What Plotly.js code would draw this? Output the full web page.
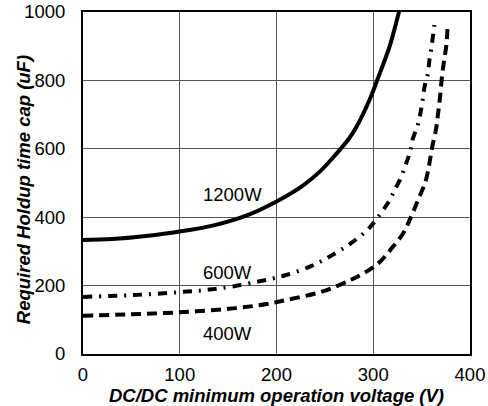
<!DOCTYPE html>
<html>
<head>
<meta charset="utf-8">
<script src="https://cdn.plot.ly/plotly-3.0.1.min.js"></script>
<style>
  html, body { margin: 0; padding: 0; background: #fff; }
  #chart { width: 488px; height: 406px; }
</style>
</head>
<body>
<div id="chart"></div>
<script>
// DC/DC minimum operation voltage (V) vs. required hold-up capacitance (uF)
const v1200 = [0, 30, 65, 100, 135, 170, 200, 228, 245, 262, 275, 283, 296, 304, 310, 317, 327];
const c1200 = [333, 336, 345, 358, 376, 406, 446, 494, 534, 586, 630, 666, 742, 800, 845, 900, 1005];

const v600 = [0, 50, 100, 142, 190, 210, 235, 255, 277, 296, 305, 316, 322, 329, 334, 338, 341, 346, 349, 351, 353, 356.5, 358, 360, 362, 364];
const c600 = [167, 172, 181, 192, 217, 231, 256, 285, 324, 369, 401, 445, 479, 518, 557, 591, 630, 669, 708, 742, 781, 820, 858, 893, 936, 980];

const v400 = [0, 50, 100, 150, 190, 210, 248, 277, 293, 307, 319, 331, 339, 347, 354, 358, 361, 365, 367, 369, 371, 373, 375.5, 377];
const c400 = [112, 116, 122, 132, 146, 158, 183, 217, 241, 270, 309, 353, 401, 455, 504, 557, 606, 659, 703, 751, 810, 854, 902, 966];

const seriesLabels = ['1200W', '600W', '400W'];
const labelV = [154, 149, 149];
const labelC = [465, 239, 61];

const xTicks = [0, 100, 200, 300, 400];
const yTicks = [0, 200, 400, 600, 800, 1000];

const FONT = 'Liberation Sans, Arial, Helvetica, sans-serif';

function curve(x, y, name, dash) {
  return {
    x: x, y: y, name: name, mode: 'lines',
    line: { color: '#000', width: 4, dash: dash, shape: 'spline', smoothing: 1, simplify: false }
  };
}

const traces = [
  curve(v1200, c1200, seriesLabels[0], 'solid'),
  curve(v600, c600, seriesLabels[1], '9px,7px,2px,7px'),
  curve(v400, c400, seriesLabels[2], '10px,6px')
];

const curveLabels = seriesLabels.map((t, i) => ({
  text: t, x: labelV[i], y: labelC[i], xref: 'x', yref: 'y',
  xanchor: 'center', yanchor: 'middle',
  showarrow: false, font: { family: FONT, size: 18.5, color: '#000' }
}));

const layout = {
  width: 488, height: 406,
  margin: { l: 83, r: 18, t: 12, b: 52 },
  paper_bgcolor: '#fff', plot_bgcolor: '#fff',
  showlegend: false,
  font: { family: FONT, size: 18.5, color: '#000' },
  xaxis: {
    range: [0, 400], tickvals: xTicks, ticktext: xTicks.map(String),
    showgrid: true, gridcolor: '#555', gridwidth: 1,
    showline: true, mirror: true, linecolor: '#000', linewidth: 2,
    zeroline: false, ticks: '', ticklabelstandoff: 3,
    title: { text: '<b><i>DC/DC minimum operation voltage (V)</i></b>',
             font: { family: FONT, size: 18.5, color: '#000' }, standoff: 1 }
  },
  yaxis: {
    range: [0, 1000], tickvals: yTicks, ticktext: yTicks.map(String),
    showgrid: true, gridcolor: '#555', gridwidth: 1,
    showline: true, mirror: true, linecolor: '#000', linewidth: 2,
    zeroline: false, ticks: '', ticklabelstandoff: 12
  },
  annotations: curveLabels.concat([{
    text: '<b><i>Required Holdup time cap (uF)</i></b>',
    xref: 'paper', yref: 'paper', x: -0.155, y: 0.479,
    xanchor: 'center', yanchor: 'middle',
    textangle: -90, showarrow: false,
    font: { family: FONT, size: 18.5, color: '#000' }
  }])
};

Plotly.newPlot('chart', traces, layout, { staticPlot: true, displayModeBar: false });
</script>
</body>
</html>
